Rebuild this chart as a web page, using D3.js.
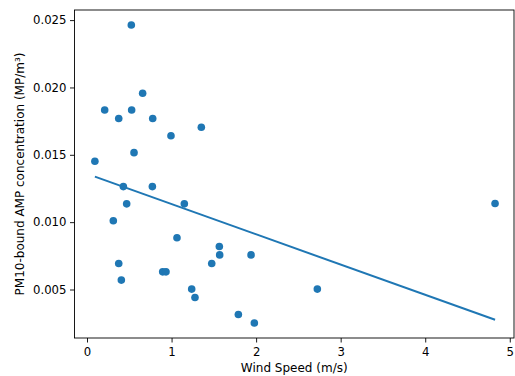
<!DOCTYPE html>
<html>
<head>
<meta charset="utf-8">
<script src="https://cdn.jsdelivr.net/npm/d3@7"></script>
<style>
  body { margin: 0; background: #fff; }
  text { font-family: "DejaVu Sans", sans-serif; }
</style>
</head>
<body>
<svg id="chart" width="515" height="376"></svg>
<script>
// wind speed (m/s) and PM10-bound AMP concentration per sample
const windSpeed = [0.524, 0.658, 0.209, 0.528, 0.375, 0.777, 1.352, 0.993, 0.556, 0.093,
                   0.430, 0.773, 0.469, 1.151, 0.311, 1.064, 1.565, 1.569, 0.375, 1.475,
                   0.895, 0.934, 0.406, 1.238, 1.277, 1.790, 1.979, 1.940, 2.724, 4.826];
const ampConc = [0.02464, 0.01957, 0.01833, 0.01833, 0.01769, 0.01769, 0.01705, 0.01642, 0.01516, 0.01452,
                 0.01264, 0.01264, 0.01136, 0.01136, 0.01010, 0.00884, 0.00819, 0.00757, 0.00693, 0.00693,
                 0.00631, 0.00631, 0.00570, 0.00503, 0.00441, 0.00315, 0.00251, 0.00757, 0.00503, 0.01138];

// fitted trend line end points
const trendX = [0.093, 4.826];
const trendY = [0.01338, 0.00275];

const xTicks = [0, 1, 2, 3, 4, 5];
const yTicks = [0.005, 0.010, 0.015, 0.020, 0.025];

const margin = {top: 10, right: 1, bottom: 38, left: 74.5};
const width = 515 - margin.left - margin.right;
const height = 376 - margin.top - margin.bottom;

const svg = d3.select('#chart');
const g = svg.append('g')
    .attr('transform', 'translate(' + margin.left + ',' + margin.top + ')');

const x = d3.scaleLinear().domain([-0.148, 5.05]).range([0, width]);
const y = d3.scaleLinear().domain([0.00140, 0.02575]).range([height, 0]);

// axes
const xAxis = g.append('g')
    .attr('transform', 'translate(0,' + height + ')')
    .call(d3.axisBottom(x).tickValues(xTicks).tickFormat(d3.format('d')).tickSize(4.5).tickPadding(5));
const yAxis = g.append('g')
    .call(d3.axisLeft(y).tickValues(yTicks).tickFormat(d3.format('.3f')).tickSize(4.5).tickPadding(3.5));

[xAxis, yAxis].forEach(a => {
  a.select('.domain').remove();
  a.selectAll('text').style('font-size', '11.7px').attr('fill', '#000');
  a.selectAll('line').attr('stroke', '#000').attr('stroke-width', 0.9);
});

// frame
g.append('rect')
    .attr('width', width)
    .attr('height', height)
    .attr('fill', 'none')
    .attr('stroke', '#000')
    .attr('stroke-width', 0.9);

// points
g.append('g')
    .selectAll('circle')
    .data(windSpeed)
    .enter()
    .append('circle')
    .attr('cx', d => x(d))
    .attr('cy', (d, i) => y(ampConc[i]))
    .attr('r', 3.8)
    .attr('fill', '#1f77b4');

// trend line
const line = d3.line()
    .x(d => x(d[0]))
    .y(d => y(d[1]));
g.append('path')
    .datum(trendX.map((v, i) => [v, trendY[i]]))
    .attr('d', line)
    .attr('stroke', '#1f77b4')
    .attr('stroke-width', 2)
    .attr('fill', 'none');

// labels
svg.append('text')
    .attr('x', margin.left + width / 2)
    .attr('y', 372)
    .attr('text-anchor', 'middle')
    .style('font-size', '12px')
    .text('Wind Speed (m/s)');

svg.append('text')
    .attr('transform', 'translate(23.5,' + (margin.top + height / 2) + ') rotate(-90)')
    .attr('text-anchor', 'middle')
    .style('font-size', '12px')
    .text('PM10-bound AMP concentration (MP/m³)');
</script>
</body>
</html>
